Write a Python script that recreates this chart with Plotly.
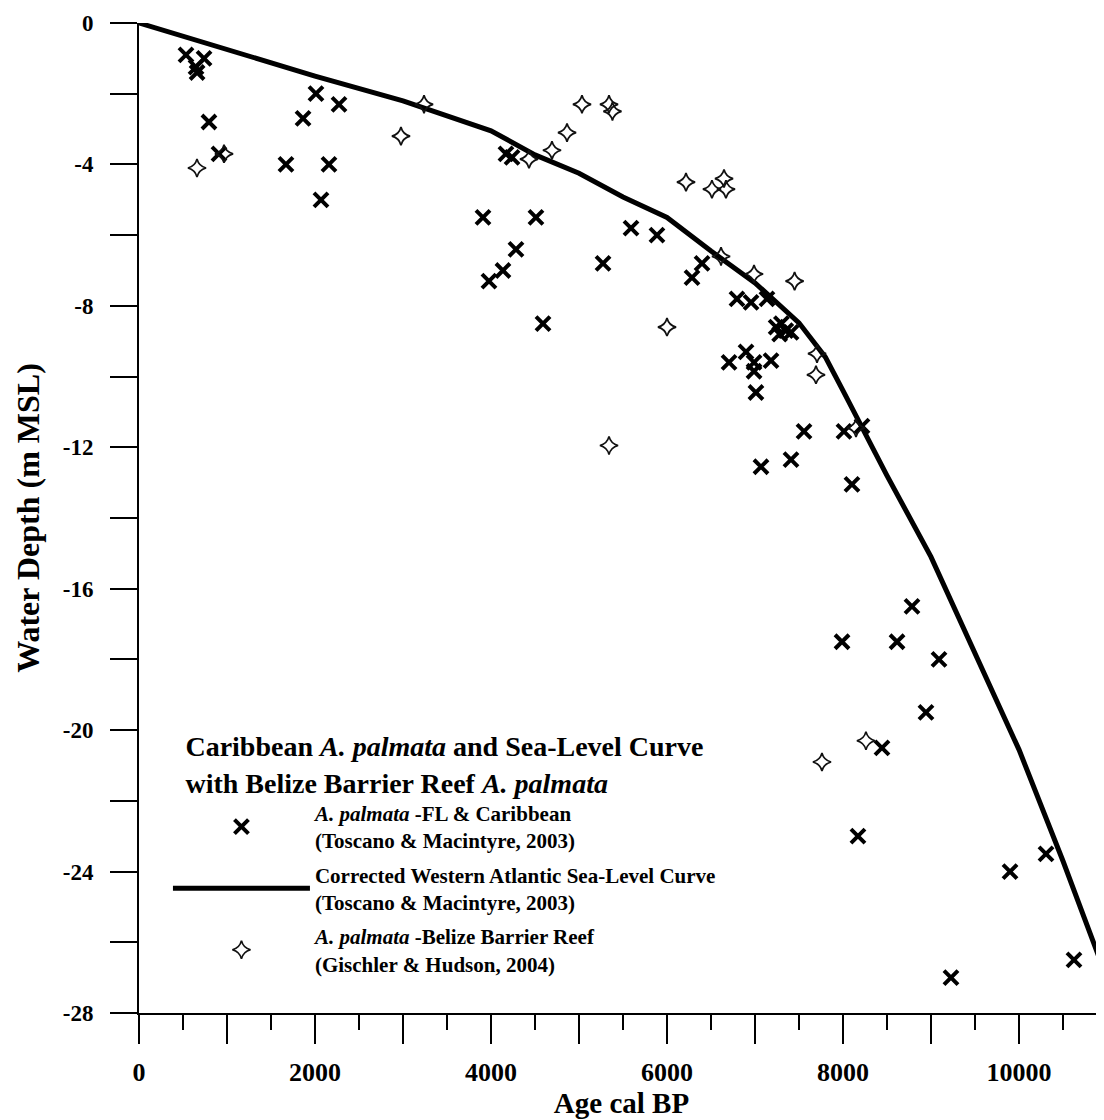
import plotly.graph_objects as go

# Corrected Western Atlantic sea-level curve (Toscano & Macintyre, 2003)
curve_age = [0, 1000, 2000, 3000, 4000, 4500, 5000, 5500, 6000, 6500, 7000, 7500,
             7800, 8000, 8500, 9000, 9500, 10000, 10500, 10966]
curve_depth = [0, -0.75, -1.5, -2.2, -3.05, -3.73, -4.25, -4.92, -5.5, -6.45, -7.35, -8.48,
               -9.45, -10.4, -12.8, -15.1, -17.8, -20.55, -23.7, -26.8]

# A. palmata - FL & Caribbean (Toscano & Macintyre, 2003)
fl_age = [534, 739, 648, 660, 795, 909, 1670, 1864, 2011, 2273, 2159, 2068,
          4170, 4239, 3909, 4511, 4284, 4136, 3977, 4591, 5273, 5591, 5886,
          6398, 6284, 6795, 6955, 7136, 7240, 7300, 7350, 7280, 7410,
          6705, 6898, 6989, 6989, 7182, 7011, 7557, 8011, 8216, 7068, 7409,
          8102, 8784, 7989, 8614, 9091, 8943, 8443, 8170, 9898, 10307, 10625, 9227]
fl_depth = [-0.9, -1.0, -1.25, -1.4, -2.8, -3.7, -4.0, -2.7, -2.0, -2.3, -4.0, -5.0,
            -3.7, -3.8, -5.5, -5.5, -6.4, -7.0, -7.3, -8.5, -6.8, -5.8, -6.0,
            -6.8, -7.2, -7.8, -7.9, -7.8, -8.6, -8.5, -8.7, -8.8, -8.75,
            -9.6, -9.3, -9.6, -9.85, -9.55, -10.45, -11.55, -11.55, -11.4, -12.55, -12.35,
            -13.05, -16.5, -17.5, -17.5, -18.0, -19.5, -20.5, -23.0, -24.0, -23.5, -26.5, -27.0]

# A. palmata - Belize Barrier Reef (Gischler & Hudson, 2004)
bz_age = [659, 966, 2977, 3239, 4432, 4693, 4864, 5034, 5341, 5380, 6216, 6511,
          6648, 6670, 6000, 6614, 6989, 7450, 7705, 7693, 8148, 5341, 8261, 7761]
bz_depth = [-4.1, -3.7, -3.2, -2.3, -3.85, -3.6, -3.1, -2.3, -2.3, -2.5, -4.5, -4.7,
            -4.4, -4.7, -8.6, -6.6, -7.1, -7.3, -9.35, -9.95, -11.45, -11.95, -20.3, -20.9]

x_tickvals = list(range(0, 11000, 1000))
x_ticktext = [str(v) if v % 2000 == 0 else "" for v in x_tickvals]
y_tickvals = list(range(-28, 1, 2))
y_ticktext = [("0" if v == 0 else "-%d" % abs(v)) if v % 4 == 0 else "" for v in y_tickvals]

SERIF = "Liberation Serif, Times New Roman, serif"

fig = go.Figure()
fig.add_trace(go.Scatter(
    x=fl_age, y=fl_depth, mode="markers", legendgroup="a",
    name="<i>A. palmata</i> -FL & Caribbean<br>(Toscano & Macintyre, 2003)",
    marker=dict(symbol="x-thin", size=14, color="black",
                line=dict(color="black", width=4)),
    cliponaxis=False,
))
fig.add_trace(go.Scatter(
    x=curve_age, y=curve_depth, mode="lines", legendgroup="b",
    name="Corrected Western Atlantic Sea-Level Curve<br>(Toscano & Macintyre, 2003)",
    line=dict(color="black", width=5),
    cliponaxis=False,
))
fig.add_trace(go.Scatter(
    x=bz_age, y=bz_depth, mode="markers", legendgroup="c",
    name="<i>A. palmata</i> -Belize Barrier Reef<br>(Gischler & Hudson, 2004)",
    marker=dict(symbol="star-diamond-open", size=13, color="#111111",
                line=dict(color="#111111", width=1.7)),
    cliponaxis=False,
))

fig.update_layout(
    width=1104, height=1120,
    margin=dict(l=131, r=8, t=15, b=115),
    paper_bgcolor="white", plot_bgcolor="white",
    font=dict(family=SERIF, color="black", size=18, weight="bold"),
    showlegend=True,
    legend=dict(
        x=0.030, y=0.296, xanchor="left", yanchor="top",
        bgcolor="rgba(0,0,0,0)",
        font=dict(family=SERIF, size=21, color="black", weight="bold"),
        title=dict(text="Caribbean <i>A. palmata</i> and Sea-Level Curve<br>with Belize Barrier Reef <i>A. palmata</i>",
                   side="top center",
                   font=dict(family=SERIF, size=28, color="black", weight="bold")),
        itemwidth=137,
        tracegroupgap=4,
        valign="middle",
    ),
    xaxis=dict(
        range=[0, 10966], showgrid=False, zeroline=False, automargin=False,
        showline=True, linecolor="black", linewidth=2,
        tickmode="array", tickvals=x_tickvals, ticktext=x_ticktext,
        ticks="outside", ticklen=29, tickwidth=1.5, tickcolor="black",
        minor=dict(tickmode="linear", tick0=0, dtick=500, ticks="outside",
                   ticklen=15, tickwidth=1.5, tickcolor="black", showgrid=False),
        tickfont=dict(family=SERIF, size=26, weight="bold"),
        ticklabelstandoff=6,
        title=dict(text="Age cal BP", font=dict(family=SERIF, size=29, weight="bold"), standoff=0),
    ),
    yaxis=dict(
        range=[-28, 0], showgrid=False, zeroline=False, automargin=False,
        showline=True, linecolor="black", linewidth=2,
        tickmode="array", tickvals=y_tickvals, ticktext=y_ticktext,
        ticks="outside", ticklen=27, tickwidth=1.5, tickcolor="black",
        tickfont=dict(family=SERIF, size=23, weight="bold"),
        ticklabelstandoff=12,
        title=dict(text="Water Depth (m MSL)", font=dict(family=SERIF, size=32, weight="bold"), standoff=14),
    ),
)

fig.write_html("out.html")
